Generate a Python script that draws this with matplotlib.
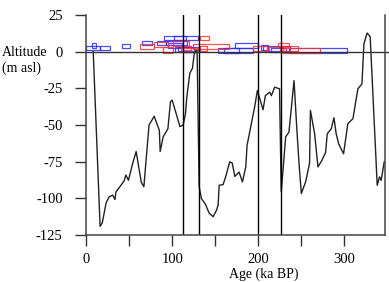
import matplotlib
matplotlib.use("Agg")
import matplotlib.pyplot as plt
from matplotlib.patches import Rectangle

# Courbe du niveau marin (ka BP, m)
age = [8, 16, 18.6, 23, 26.4, 30.6, 33.3, 34.5, 39, 44, 46, 49, 54, 58, 64, 67,
       73, 79, 85, 86, 89.5, 95, 98, 100, 105, 109, 112.8, 115.5, 117, 120.5,
       123.6, 125.6, 127.5, 129, 131.4, 134, 138.8, 143, 147.7, 151.6, 153.5,
       154.7, 159.3, 162.4, 167, 170, 172.9, 177.9, 181.8, 185.7, 187.2, 191,
       196, 199.2, 202, 205.8, 208.5, 213.6, 215.5, 219.4, 225, 227, 232.2,
       236, 241.9, 245, 247.7, 250.4, 255.4, 260, 261, 265.9, 269.8, 274.4,
       278.7, 280.6, 285.3, 288.4, 291, 294, 299.6, 304.6, 310.5, 316.3, 321,
       323.3, 327, 330.6, 338.8, 341.5, 343.4, 347]
niveau = [0, -119, -116.5, -103, -99, -97.7, -100.7, -95.5, -92, -88, -84,
          -87.6, -76, -68, -89, -92, -50, -44, -53.6, -68, -58, -52.5, -34,
          -33, -43, -51, -50, -42, -31, -14.7, -11.3, -1.6, 0.7, 0.7, -92,
          -100, -104, -110, -112.4, -108, -104.5, -91, -90.5, -85, -75, -76,
          -85, -82, -88.7, -78.5, -63.8, -52.5, -37.8, -26.5, -32, -39.6, -30,
          -27.6, -30, -24.2, -25.3, -95.5, -58, -54.8, -19.7, -51, -76, -96.6,
          -88.7, -76, -40, -55.9, -78.5, -74, -68.6, -55.9, -52.5, -45, -55.9,
          -63, -69.5, -49, -45.7, -25.3, -22, 5.2, 12.7, 10.2, -91, -85.3,
          -87.6, -75]

# Rectangles des données (age min, age max, alt min, alt max, couleur)
rect_x0 = [0, 6.5, 16, 41, 65, 82, 90, 102, 93, 95, 103, 107, 153, 160, 173,
           204, 206, 236, 215,
           62, 79, 101, 89, 124, 131, 132, 110, 194, 213, 223, 225, 229, 112]
rect_x1 = [16, 11, 27, 51, 76, 93, 116, 130, 117, 111, 132, 125, 194, 178, 200,
           212, 237, 304, 232,
           79, 95, 120, 101, 166, 140, 143, 122, 210, 229, 236, 246, 272, 130]
rect_y0 = [1.2, 2.8, 1.0, 2.2, 4.3, 4.5, 8.0, 8.0, 4.5, 2.5, -0.5, 0.5, -1.0,
           -1.0, 2.7, 1.1, 0.7, -1.0, -0.3,
           2.0, 3.4, 4.0, -1.0, 1.8, 0.5, 8.0, 1.0, 0.7, -0.5, 3.0, 0.7, -1.0,
           -0.5]
rect_y1 = [3.8, 5.6, 3.8, 5.2, 7.0, 7.5, 11.0, 11.0, 7.5, 5.7, 3.0, 3.5, 2.3,
           2.3, 5.9, 4.8, 3.6, 2.3, 2.7,
           5.2, 6.3, 7.0, 3.0, 5.2, 3.6, 11.0, 4.0, 4.0, 3.0, 5.9, 4.0, 2.3,
           2.5]
rect_col = ['blue'] * 19 + ['red'] * 14

lignes_v = [112, 131, 200, 227]

plt.rcParams['font.family'] = ['Liberation Serif', 'DejaVu Serif']

fig = plt.figure(figsize=(3.89, 2.82), dpi=100)
ax = fig.add_axes([0.222, 0.166, 0.768, 0.781])

ax.plot(age, niveau, color='#222222', lw=1)

for x0, x1, y0, y1, c in zip(rect_x0, rect_x1, rect_y0, rect_y1, rect_col):
    ec = '#2b2bff' if c == 'blue' else '#ff3030'
    ax.add_patch(Rectangle((x0, y0), x1 - x0, y1 - y0, fill=False,
                           edgecolor=ec, lw=0.9, alpha=0.85))

for xv in lignes_v:
    ax.axvline(xv, color='black', lw=1)
ax.axhline(0, color='#333333', lw=1, xmax=1.02, clip_on=False)

ax.set_xlim(0, 348)
ax.set_ylim(-125, 25)
ax.set_xticks([0, 50, 100, 150, 200, 250, 300])
ax.set_xticklabels(['0', '', '100', '', '200', '', '300'])
ax.set_yticks([-125, -100, -75, -50, -25, 0, 25])
ax.set_yticklabels(['-125', '-100', '-75', '-50', '-25', '0', '25'])
ax.tick_params(direction='out', length=8, width=1, labelsize=10.5,
               color='#333333')
ax.tick_params(axis='y', pad=9)
ax.tick_params(axis='x', pad=5)

ax.spines['top'].set_visible(False)
for s in ['left', 'bottom', 'right']:
    ax.spines[s].set_color('#444444')
    ax.spines[s].set_linewidth(1.1)

fig.text(0.005, 1 - 52 / 282, 'Altitude', fontsize=10, va='center', ha='left')
fig.text(0.005, 1 - 68 / 282, '(m asl)', fontsize=10, va='center', ha='left')
fig.text(264 / 389, 1 / 282, 'Age (ka BP)', fontsize=10,
         va='bottom', ha='center')

fig.savefig('out.png', dpi=100)
